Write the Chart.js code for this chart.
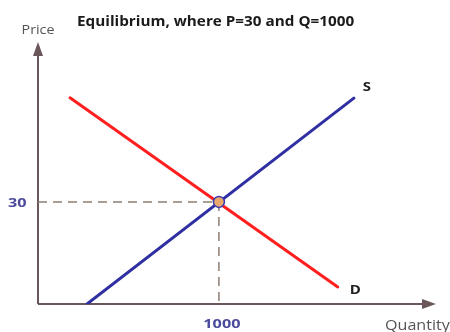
<!DOCTYPE html>
<html>
<head>
<meta charset="utf-8">
<script src="https://cdn.jsdelivr.net/npm/chart.js@4.4.0/dist/chart.umd.min.js"></script>
<style>
html,body{margin:0;padding:0;background:#fff;}
#wrap{width:450px;height:332px;position:relative;}
</style>
</head>
<body>
<div id="wrap"><canvas id="c" width="450" height="332"></canvas></div>
<script>
// ---- data ----
const supplyQ = [271, 1746];
const supplyP = [0, 60.5];
const demandQ = [177, 1657];
const demandP = [60.6, 5];
const eqQ = [1000];
const eqP = [30];
const xTickValues = [1000];
const yTickValues = [30];
const curveNames = ['S', 'D'];
const titleText = 'Equilibrium, where P=30 and Q=1000';
const xAxisTitle = 'Quantity';
const yAxisTitle = 'Price';
const xMax = 2200;
const yMax = 77;

const pts = (xs, ys) => xs.map((x, i) => ({x: x, y: ys[i]}));

function stretchText(ctx, str, x, y, align, sx) {
  ctx.save();
  ctx.translate(x, y);
  ctx.scale(sx, 1);
  ctx.textAlign = align;
  ctx.fillText(str, 0, 0);
  ctx.restore();
}

const overlay = {
  id: 'overlay',
  beforeDatasetsDraw(chart) {
    const ctx = chart.ctx, xs = chart.scales.x, ys = chart.scales.y;
    const x0 = xs.getPixelForValue(0), y0 = ys.getPixelForValue(0);
    const xEnd = xs.getPixelForValue(xMax), yEnd = ys.getPixelForValue(yMax);
    ctx.save();
    ctx.strokeStyle = '#6b575a';
    ctx.fillStyle = '#6b575a';
    ctx.lineWidth = 2;
    ctx.beginPath();
    ctx.moveTo(x0, y0); ctx.lineTo(x0, yEnd + 8);
    ctx.moveTo(x0, y0); ctx.lineTo(xEnd - 8, y0);
    ctx.stroke();
    ctx.beginPath();
    ctx.moveTo(x0, yEnd); ctx.lineTo(x0 - 5, yEnd + 14); ctx.lineTo(x0 + 5, yEnd + 14); ctx.closePath();
    ctx.fill();
    ctx.beginPath();
    ctx.moveTo(xEnd, y0); ctx.lineTo(xEnd - 14, y0 - 5); ctx.lineTo(xEnd - 14, y0 + 5); ctx.closePath();
    ctx.fill();
    ctx.restore();
  },
  afterDraw(chart) {
    const ctx = chart.ctx, xs = chart.scales.x, ys = chart.scales.y;
    const x0 = xs.getPixelForValue(0), y0 = ys.getPixelForValue(0);
    ctx.save();
    ctx.textBaseline = 'middle';
    // tick labels
    ctx.font = 'bold 13px "Open Sans"';
    ctx.fillStyle = '#4b4a9c';
    xTickValues.forEach(v => stretchText(ctx, String(v), xs.getPixelForValue(v) + 3, y0 + 20, 'center', 1.25));
    yTickValues.forEach(v => stretchText(ctx, String(v), 8, ys.getPixelForValue(v) + 1, 'left', 1.25));
    // axis titles
    ctx.fillStyle = '#555';
    ctx.font = '13px "Open Sans"';
    stretchText(ctx, yAxisTitle, x0, 30, 'center', 1.1);
    ctx.font = '14px "Open Sans"';
    stretchText(ctx, xAxisTitle, 385, y0 + 22, 'left', 1.15);
    // title
    ctx.font = 'bold 14px "Open Sans"';
    ctx.fillStyle = '#1a1a1a';
    stretchText(ctx, titleText, 77, 22, 'left', 1.09);
    // curve labels
    ctx.font = 'bold 13px "Open Sans"';
    ctx.fillStyle = '#222';
    stretchText(ctx, curveNames[0], xs.getPixelForValue(supplyQ[1]) + 9, ys.getPixelForValue(supplyP[1]) - 11, 'left', 1.15);
    stretchText(ctx, curveNames[1], xs.getPixelForValue(demandQ[1]) + 12, ys.getPixelForValue(demandP[1]) + 3, 'left', 1.15);
    ctx.restore();
  }
};

new Chart(document.getElementById('c'), {
  type: 'scatter',
  data: {
    datasets: [
      {order: 3, data: pts([0, eqQ[0]], [eqP[0], eqP[0]]), showLine: true, borderColor: '#8e7e72', borderWidth: 1.5, borderDash: [9, 6], pointRadius: 0},
      {order: 3, data: pts([eqQ[0], eqQ[0]], [eqP[0], 0]), showLine: true, borderColor: '#8e7e72', borderWidth: 1.5, borderDash: [9, 6], pointRadius: 0},
      {order: 2, data: pts(demandQ, demandP), showLine: true, borderColor: '#ff1f1f', borderWidth: 3, pointRadius: 0, borderCapStyle: 'round'},
      {order: 1, data: pts(supplyQ, supplyP), showLine: true, borderColor: '#2f2fa3', borderWidth: 3, pointRadius: 0, borderCapStyle: 'round'},
      {order: 0, data: pts(eqQ, eqP), pointRadius: 5.5, pointBackgroundColor: '#e9a86b', pointBorderColor: '#3a3ab5', pointBorderWidth: 1.5}
    ]
  },
  options: {
    responsive: false,
    animation: false,
    layout: {padding: {left: 38, right: 14, top: 42, bottom: 28}},
    plugins: {legend: {display: false}, tooltip: {enabled: false}, title: {display: false}},
    scales: {
      x: {type: 'linear', min: 0, max: xMax, display: false},
      y: {type: 'linear', min: 0, max: yMax, display: false}
    }
  },
  plugins: [overlay]
});
</script>
</body>
</html>
